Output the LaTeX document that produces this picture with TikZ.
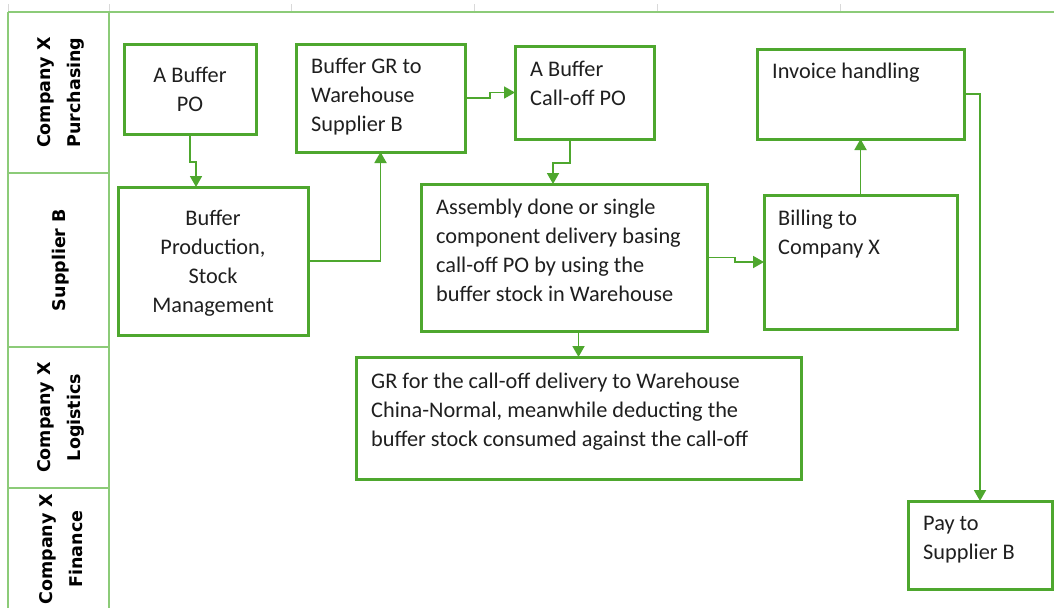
\documentclass[tikz,border=0pt]{standalone}
\usepackage{fontspec}
\setmainfont{Carlito}
\newfontfamily\lanefont{DejaVu Sans}
\usetikzlibrary{arrows.meta}
\definecolor{boxgreen}{HTML}{4EA72E}
\definecolor{lanegreen}{HTML}{8CCB78}
\definecolor{tickgrey}{HTML}{D9D9D9}
\begin{document}
\begin{tikzpicture}[x=1pt,y=-1pt,
  box/.style={draw=boxgreen,line width=3pt,inner sep=0pt,outer sep=0pt,anchor=north west},
  txt/.style={anchor=base west,inner sep=0pt,font=\fontsize{22.3}{29}\selectfont,text=black!88},
  ctxt/.style={anchor=base,inner sep=0pt,font=\fontsize{22.3}{29}\selectfont,text=black!88},
  lane/.style={rotate=90,align=center,inner sep=0pt,font=\lanefont\bfseries\fontsize{17.5}{30}\selectfont},
  lline/.style={draw=lanegreen,line width=1.4pt},
  conn/.style={draw=boxgreen,line width=1.8pt,-{Triangle[length=11pt,width=12pt]}}
]
\useasboundingbox[fill=white] (0,0) rectangle (1054,608);
% grid ticks
\foreach \tx in {8,109,291,474,657,840}{\draw[tickgrey,line width=1pt] (\tx,4) -- (\tx,12);}
% lane structure
\draw[lline] (8,12) -- (1054,12);
\draw[lline] (8,12) -- (8,608);
\draw[lline] (109,12) -- (109,608);
\draw[lline] (8,173) -- (109,173);
\draw[lline] (8,347) -- (109,347);
\draw[lline] (8,488) -- (109,488);
\node[lane] (l1) at (61,92.5) {Company X\\Purchasing};
\node[lane] (l2) at (61,260) {Supplier B};
\node[lane] (l3) at (61,417.5) {Company X\\Logistics};
\node[lane] (l4) at (61,549) {Company X\\Finance};
% boxes
\node[box,minimum width=132pt,minimum height=90pt] (bpo) at (124,44) {};
\node[box,minimum width=190pt,minimum height=148pt] (prod) at (118,187) {};
\node[box,minimum width=169pt,minimum height=108pt] (gr) at (296,44) {};
\node[box,minimum width=139pt,minimum height=93pt] (cpo) at (515,46) {};
\node[box,minimum width=286pt,minimum height=147pt] (asm) at (421,184) {};
\node[box,minimum width=207pt,minimum height=90pt] (inv) at (757,49) {};
\node[box,minimum width=193pt,minimum height=134pt] (bill) at (764,195) {};
\node[box,minimum width=445pt,minimum height=122pt] (grc) at (356,357) {};
\node[box,minimum width=144pt,minimum height=88pt] (pay) at (908,501) {};
% texts
\node[ctxt] (tbpo) at (190,82) {\parbox[t]{130pt}{\centering A Buffer\\PO}};
\node[ctxt] (tprod) at (213,225) {\parbox[t]{185pt}{\centering Buffer\\Production,\\Stock\\Management}};
\node[txt] (tgr) at (311,73) {\parbox[t]{160pt}{Buffer GR to\\Warehouse\\Supplier B}};
\node[txt] (tcpo) at (530,76) {\parbox[t]{130pt}{A Buffer\\Call-off PO}};
\node[txt] (tasm) at (436,214) {\parbox[t]{275pt}{Assembly done or single\\component delivery basing\\call-off PO by using the\\buffer stock in Warehouse}};
\node[txt] (tinv) at (772,78) {\parbox[t]{190pt}{Invoice handling}};
\node[txt] (tbill) at (778,225) {\parbox[t]{170pt}{Billing to\\Company X}};
\node[txt] (tgrc) at (371,388) {\parbox[t]{430pt}{GR for the call-off delivery to Warehouse\\China-Normal, meanwhile deducting the\\buffer stock consumed against the call-off}};
\node[txt] (tpay) at (923,530) {\parbox[t]{130pt}{Pay to\\Supplier B}};
% connectors
\coordinate (j1) at (196,162);
\draw[conn] (bpo.south) |- (j1) -- (j1 |- prod.north);
\draw[conn] (prod.east) -| (gr.south);
\coordinate (j3) at (490,92.5);
\draw[conn] (gr.east) -| (j3) -- (cpo.west);
\coordinate (j4a) at (570,163);
\coordinate (j4b) at (553,163);
\draw[conn] (cpo.south -| j4a) -- (j4a) -- (j4b) -- (j4b |- asm.north);
\coordinate (j5) at (735,262);
\draw[conn] (asm.east) -| (j5) -- (bill.west);
\draw[conn] (bill.north) -- (inv.south);
\draw[conn] (inv.east) -| (pay.north);
\draw[conn] (grc.north |- asm.south) -- (grc.north);
\end{tikzpicture}
\end{document}
